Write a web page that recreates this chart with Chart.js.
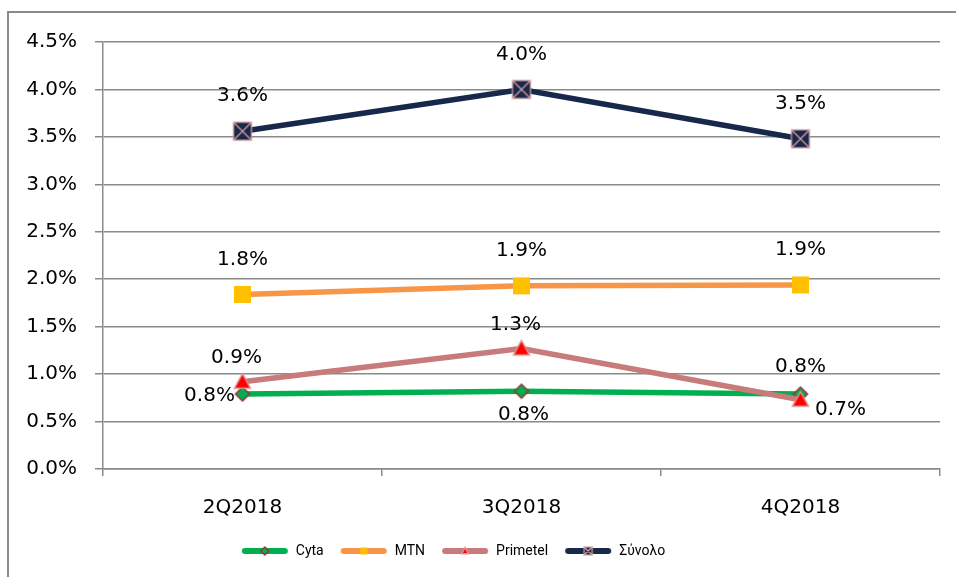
<!DOCTYPE html>
<html>
<head>
<meta charset="utf-8">
<script src="https://cdn.jsdelivr.net/npm/chart.js@4.4.1/dist/chart.umd.min.js"></script>
<style>
  html, body { margin: 0; padding: 0; background: #fff; overflow: hidden; }
  #frame { position: absolute; left: 7px; top: 11px; width: 1000px; height: 620px; border: 2px solid #8a8a8a; }
  #chart { position: absolute; left: 0; top: 0; }
</style>
</head>
<body>
<div id="frame"></div>
<canvas id="chart" width="956" height="577"></canvas>
<script>
// Data (values in %)
const quarters = ['2Q2018', '3Q2018', '4Q2018']
const cyta = [0.79, 0.82, 0.79]
const mtn = [1.84, 1.93, 1.94]
const primetel = [0.92, 1.27, 0.73]
const total = [3.56, 4.0, 3.48]
const yTickLabels = ['0.0%', '0.5%', '1.0%', '1.5%', '2.0%', '2.5%', '3.0%', '3.5%', '4.0%', '4.5%']

// where each point's value label sits relative to its marker
const labelSpots = {
    Cyta: ['left', 'below', 'aboveLow'],
    MTN: ['above', 'above', 'above'],
    Primetel: ['aboveNear', 'aboveNear', 'rightBelow'],
    'Σύνολο': ['above', 'above', 'above']
}
const spotOffsets = {
    above: [0, -35],
    aboveLow: [0, -27],
    aboveNear: [-6, -24],
    below: [2, 24],
    left: [-33, 2],
    rightBelow: [40, 10]
}

const FONT = 'DejaVu Sans'

function drawMarker(ctx, kind, x, y, s) {
    ctx.save()
    if (kind === 'diamond') {
        ctx.beginPath()
        ctx.moveTo(x, y - s); ctx.lineTo(x + s, y); ctx.lineTo(x, y + s); ctx.lineTo(x - s, y); ctx.closePath()
        ctx.fillStyle = '#00B050'; ctx.fill()
        ctx.lineWidth = 1.5; ctx.strokeStyle = '#953735'; ctx.stroke()
    } else if (kind === 'square') {
        ctx.fillStyle = '#FFC000'
        ctx.fillRect(x - s, y - s, 2 * s, 2 * s)
    } else if (kind === 'triangle') {
        ctx.beginPath()
        ctx.moveTo(x, y - s); ctx.lineTo(x + s, y + s * 0.8); ctx.lineTo(x - s, y + s * 0.8); ctx.closePath()
        ctx.fillStyle = '#FF0000'; ctx.fill()
        ctx.lineWidth = 1.5; ctx.strokeStyle = '#D99694'; ctx.stroke()
    } else if (kind === 'xbox') {
        ctx.fillStyle = '#17284A'
        ctx.fillRect(x - s, y - s, 2 * s, 2 * s)
        ctx.lineWidth = 1.2; ctx.strokeStyle = '#D9A3A3'
        ctx.strokeRect(x - s, y - s, 2 * s, 2 * s)
        ctx.beginPath()
        ctx.moveTo(x - s, y - s); ctx.lineTo(x + s, y + s)
        ctx.moveTo(x + s, y - s); ctx.lineTo(x - s, y + s)
        ctx.stroke()
    }
    ctx.restore()
}

function markerImage(kind, s) {
    const c = document.createElement('canvas')
    c.width = 2 * s + 4; c.height = 2 * s + 4
    drawMarker(c.getContext('2d'), kind, c.width / 2, c.height / 2, s)
    return c
}

function legendImage(color, kind, s) {
    const c = document.createElement('canvas')
    c.width = 48; c.height = 14
    const ctx = c.getContext('2d')
    ctx.strokeStyle = color; ctx.lineWidth = 6; ctx.lineCap = 'round'
    ctx.beginPath(); ctx.moveTo(4, 7); ctx.lineTo(44, 7); ctx.stroke()
    drawMarker(ctx, kind, 24, 7, s)
    return c
}

const series = [
    { label: 'Cyta', data: cyta, color: '#00B050', kind: 'diamond', order: 4 },
    { label: 'MTN', data: mtn, color: '#F79646', kind: 'square', order: 3 },
    { label: 'Primetel', data: primetel, color: '#C77B7A', kind: 'triangle', order: 2 },
    { label: 'Σύνολο', data: total, color: '#17284A', kind: 'xbox', order: 1 }
]
const pointSizes = { diamond: 7, square: 8.5, triangle: 8, xbox: 9 }
const legendSizes = { diamond: 4, square: 3.5, triangle: 3.5, xbox: 4 }

const valueLabels = {
    id: 'valueLabels',
    afterDatasetsDraw(chart) {
        const ctx = chart.ctx
        ctx.save()
        ctx.font = '20px "' + FONT + '"'
        ctx.fillStyle = '#000'
        ctx.textAlign = 'center'
        ctx.textBaseline = 'middle'
        chart.data.datasets.forEach((ds, di) => {
            const meta = chart.getDatasetMeta(di)
            meta.data.forEach((pt, i) => {
                const off = spotOffsets[labelSpots[ds.label][i]]
                ctx.fillText(ds.data[i].toFixed(1) + '%', pt.x + off[0], pt.y + off[1])
            })
        })
        ctx.restore()
    }
}

// nudge the legend a little left, as in the original
const legendShift = {
    id: 'legendShift',
    afterLayout(chart) {
        chart.legend.left -= 17
        chart.legend.right -= 17
    }
}

new Chart(document.getElementById('chart'), {
    type: 'line',
    data: {
        labels: quarters,
        datasets: series.map(s => ({
            label: s.label,
            data: s.data,
            order: s.order,
            borderColor: s.color,
            borderWidth: 5.5,
            tension: 0,
            pointStyle: markerImage(s.kind, pointSizes[s.kind]),
            pointRadius: 9,
            pointHoverRadius: 9
        }))
    },
    options: {
        responsive: false,
        animation: false,
        layout: { padding: { top: 42, right: 16, bottom: 9, left: 0 } },
        plugins: {
            tooltip: { enabled: false },
            legend: {
                position: 'bottom',
                labels: {
                    usePointStyle: true,
                    pointStyleWidth: 48,
                    padding: 16,
                    color: '#000',
                    font: { family: 'Roboto', size: 14 },
                    generateLabels: () => series.map((s, i) => ({
                        text: s.label,
                        pointStyle: legendImage(s.color, s.kind, legendSizes[s.kind]),
                        datasetIndex: i,
                        lineWidth: 0,
                        fontColor: '#000'
                    }))
                }
            }
        },
        scales: {
            x: {
                offset: true,
                afterFit: scale => { scale.height = 59 },
                grid: { offset: true, drawOnChartArea: false, drawTicks: true, tickLength: 7, color: '#8a8a8a', lineWidth: 1.5 },
                border: { color: '#8a8a8a', width: 1.5 },
                ticks: { color: '#000', padding: 20, font: { family: FONT, size: 20 } }
            },
            y: {
                min: 0,
                max: 4.5,
                afterFit: scale => { scale.width = 103 },
                grid: { color: '#8a8a8a', lineWidth: 1.5, tickLength: 8 },
                border: { color: '#8a8a8a', width: 1.5 },
                ticks: {
                    stepSize: 0.5,
                    color: '#000',
                    padding: 18,
                    font: { family: FONT, size: 20 },
                    callback: (v, i) => yTickLabels[i]
                }
            }
        }
    },
    plugins: [valueLabels, legendShift]
})
</script>
</body>
</html>
